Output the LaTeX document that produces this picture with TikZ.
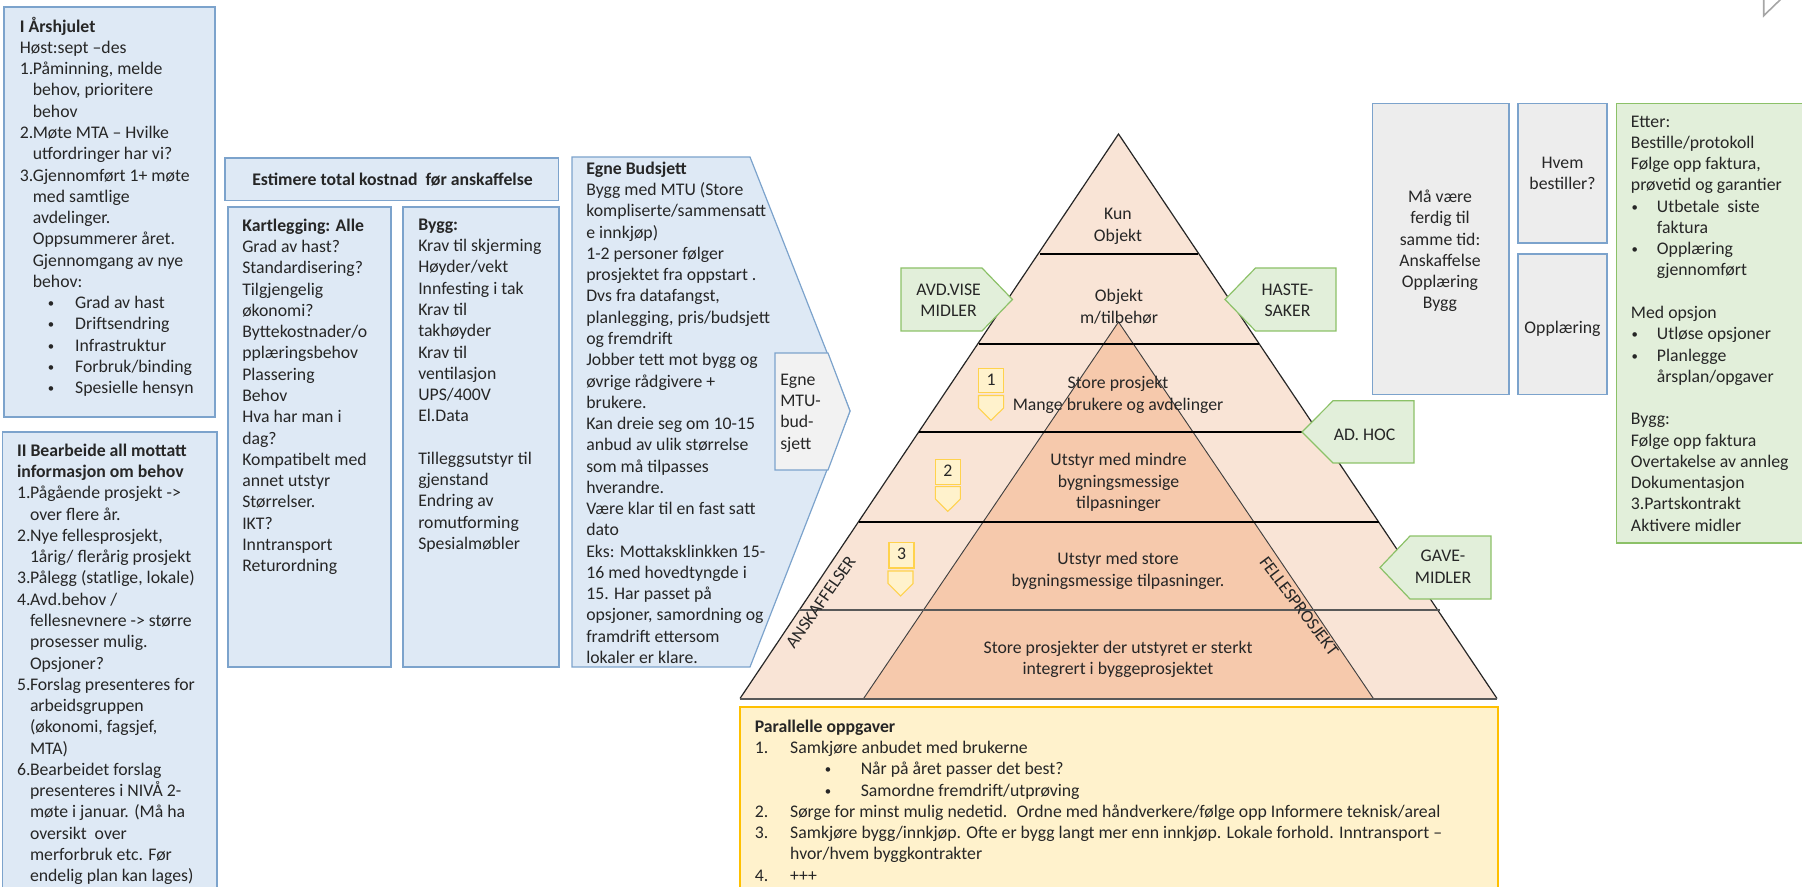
\documentclass[tikz,border=0pt]{standalone}
\usepackage{fontspec}
\setmainfont{Carlito}
\definecolor{bluefill}{HTML}{DEE9F5}
\definecolor{blueline}{HTML}{7CA3CC}
\definecolor{greenfill}{HTML}{E2EFDA}
\definecolor{greenline}{HTML}{8CC168}
\definecolor{greyfill}{HTML}{EDEDED}
\definecolor{yellowfill}{HTML}{FFF2CC}
\definecolor{yellowline}{HTML}{FFC000}
\definecolor{numline}{HTML}{FFD24D}
\definecolor{outerfill}{HTML}{F9E4D6}
\definecolor{innerfill}{HTML}{F6C9AC}
\definecolor{inkcolor}{HTML}{262626}
\newcommand{\nr}[2]{\makebox[#1][l]{#2}}
\newcommand{\bull}[2]{\makebox[#2][l]{\hspace*{#1}\raisebox{.7pt}{\scalebox{.72}{\textbullet}}}}

\begin{document}
\begin{tikzpicture}[
      x = .75pt, y = -.75pt,
      every node/.style = {
        inner sep = 0pt, text = inkcolor,
        font = \fontsize{13.3}{15.95}\selectfont,
        execute at begin node = \strut},
      lefttxt/.style = {anchor = north west, align = left, yshift = -2pt},
      midtxt/.style = {anchor = north, align = center, yshift = -2pt},
      bluebox/.style = {draw = blueline, fill = bluefill, line width = .9pt},
      greybox/.style = {draw = blueline, fill = greyfill, line width = .9pt},
      greenbox/.style = {draw = greenline, fill = greenfill, line width = .9pt},
      yellowbox/.style = {draw = yellowline, fill = yellowfill, line width = .9pt},
      numbox/.style = {draw = numline, fill = yellowfill, line width = .8pt},
      band/.style = {black, line width = 1.5pt}
      ]
    \useasboundingbox (0,0) rectangle (1802,887);
    % left boxes
    \draw[bluebox] (4,7) rectangle (215,417);
    \node[lefttxt] (I) at (19.6,14) {\textbf{I Årshjulet}\\
      Høst:sept –des\\
      \nr{9.7pt}{1.}Påminning, melde\\
      \nr{9.7pt}{}behov, prioritere\\
      \nr{9.7pt}{}behov\\
      \nr{9.7pt}{2.}Møte MTA – Hvilke\\
      \nr{9.7pt}{}utfordringer har vi?\\
      \nr{9.7pt}{3.}Gjennomført 1+ møte\\
      \nr{9.7pt}{}med samtlige\\
      \nr{9.7pt}{}avdelinger.\\
      \nr{9.7pt}{}Oppsummerer året.\\
      \nr{9.7pt}{}Gjennomgang av nye\\
      \nr{9.7pt}{}behov:\\
      \bull{21pt}{41.5pt}Grad av hast\\
      \bull{21pt}{41.5pt}Driftsendring\\
      \bull{21pt}{41.5pt}Infrastruktur\\
      \bull{21pt}{41.5pt}Forbruk/binding\\
      \bull{21pt}{41.5pt}Spesielle hensyn};
    \draw[bluebox] (2.5,432) rectangle (217,895);
    \node[lefttxt] (II) at (16.8,441) {\textbf{II Bearbeide all mottatt}\\
      \textbf{informasjon om behov}\\
      \nr{9.7pt}{1.}Pågående prosjekt ->\\
      \nr{9.7pt}{}over flere år.\\
      \nr{9.7pt}{2.}Nye fellesprosjekt,\\
      \nr{9.7pt}{}1årig/ flerårig prosjekt\\
      \nr{9.7pt}{3.}Pålegg (statlige, lokale)\\
      \nr{9.7pt}{4.}Avd.behov /\\
      \nr{9.7pt}{}fellesnevnere -> større\\
      \nr{9.7pt}{}prosesser mulig.\\
      \nr{9.7pt}{}Opsjoner?\\
      \nr{9.7pt}{5.}Forslag presenteres for\\
      \nr{9.7pt}{}arbeidsgruppen\\
      \nr{9.7pt}{}(økonomi, fagsjef,\\
      \nr{9.7pt}{}MTA)\\
      \nr{9.7pt}{6.}Bearbeidet forslag\\
      \nr{9.7pt}{}presenteres i NIVÅ 2-\\
      \nr{9.7pt}{}møte i januar. (Må ha\\
      \nr{9.7pt}{}oversikt~ over\\
      \nr{9.7pt}{}merforbruk etc. Før\\
      \nr{9.7pt}{}endelig plan kan lages)};
    % estimate
    \draw[bluebox] (225,158) rectangle (558.6,200.7);
    \node[midtxt] (E) at (392.5,167.5) {\textbf{Estimere total kostnad~ før anskaffelse}};
    \draw[bluebox] (228,207) rectangle (391,667);
    \node[lefttxt] (K) at (242,216) {\textbf{Kartlegging: Alle}\\
      Grad av hast?\\
      Standardisering?\\
      Tilgjengelig\\
      økonomi?\\
      Byttekostnader/o\\
      pplæringsbehov\\
      Plassering\\
      Behov\\
      Hva har man i\\
      dag?\\
      Kompatibelt med\\
      annet utstyr\\
      Størrelser.\\
      IKT?\\
      Inntransport\\
      Returordning};
    \draw[bluebox] (403,207) rectangle (559,667);
    \node[lefttxt] (B) at (418,216) {\textbf{Bygg:}\\
      Krav til skjerming\\
      Høyder/vekt\\
      Innfesting i tak\\
      Krav til\\
      takhøyder\\
      Krav til\\
      ventilasjon\\
      UPS/400V\\
      El.Data\\
      ~\\
      Tilleggsutstyr til\\
      gjenstand\\
      Endring av\\
      romutforming\\
      Spesialmøbler};
    % own budgets
    \draw[bluebox] (572,157) -- (750,157) -- (850,411) -- (750,667) -- (572,667) -- cycle;
    \node[lefttxt] (M) at (586,159) {\textbf{Egne Budsjett}\\
      Bygg med MTU (Store\\
      kompliserte/sammensatt\\
      e innkjøp)\\
      1-2 personer følger\\
      prosjektet fra oppstart .\\
      Dvs fra datafangst,\\
      planlegging, pris/budsjett\\
      og fremdrift\\
      Jobber tett mot bygg og\\
      øvrige rådgivere +\\
      brukere.\\
      Kan dreie seg om 10-15\\
      anbud av ulik størrelse\\
      som må tilpasses\\
      hverandre.\\
      Være klar til en fast satt\\
      dato\\
      Eks: Mottaksklinkken 15-\\
      16 med hovedtyngde i\\
      15. Har passet på\\
      opsjoner, samordning og\\
      framdrift ettersom\\
      lokaler er klare.};
    \draw[draw = blueline, fill = greyfill!70!white, line width = .9pt]
      (828,353) -- (775,353) -- (775,470) -- (828,470) -- (850,411) -- cycle;
    \node[lefttxt] (U) at (780,371) {Egne\\MTU-\\bud-\\sjett};
    % pyramid
    \fill[outerfill] (1118.5,134) -- (1497,698.5) -- (740,698.5) -- cycle;
    \fill[innerfill] (1118.5,322) -- (1373.4,698.5) -- (863.6,698.5) -- cycle;
    \draw[black!75, line width = .7pt] (863.6,698.5) -- (1118.5,322) -- (1373.4,698.5);
    \draw[black!85, line width = .9pt] (740,698.5) -- (1118.5,134) -- (1497,698.5);
    \draw[band] (1040.4,254) -- (1197.6,254);
    \draw[band] (978.5,343.6) -- (1259,343.6);
    \draw[band] (919,432.4) -- (1318,432.4);
    \draw[band] (858.7,521.6) -- (1379.3,521.6);
    \draw[black!65, line width = 1.5pt] (798.8,610.4) -- (1439.7,610.4);
    \draw[black!65, line width = 1.5pt] (740,698.5) -- (1497,698.5);
    \node[midtxt] (L1) at (1118,205.5) {Kun\\Objekt};
    \node[midtxt] (L2) at (1119,286.5) {Objekt\\m/tilbehør};
    \node[midtxt] (L3) at (1118,373.5) {Store prosjekt\\Mange brukere og avdelinger};
    \node[midtxt] (L4) at (1118.5,450.5) {Utstyr med mindre\\bygningsmessige\\tilpasninger};
    \node[midtxt] (L5) at (1118,549.5) {Utstyr med store\\bygningsmessige tilpasninger.};
    \node[midtxt] (L6) at (1118,638) {Store prosjekter der utstyret er sterkt\\integrert i byggeprosjektet};
    \node[rotate = 55] (A) at (822,603) {ANSKAFFELSER};
    \node[rotate = -53] (F) at (1298,607) {FELLESPROSJEKT};
    % numbers
    \draw[numbox] (978.5,368.4) rectangle (1003.6,392.5);
    \node (N1) at (991,381) {1};
    \draw[numbox] (978.5,395.5) -- (1003.6,395.5) -- (1003.6,408) -- (991,420.3) -- (978.5,408) -- cycle;
    \draw[numbox] (935.3,459.5) rectangle (960.4,484.3);
    \node (N2) at (947.8,472.5) {2};
    \draw[numbox] (935.3,486.6) -- (960.4,486.6) -- (960.4,499) -- (947.8,511.4) -- (935.3,499) -- cycle;
    \draw[numbox] (889,542.6) rectangle (914,568);
    \node (N3) at (901.5,555.5) {3};
    \draw[numbox] (888,571) -- (913,571) -- (913,583.5) -- (900.5,596) -- (888,583.5) -- cycle;
    % funding arrows
    \draw[greenbox] (901,268) -- (982,268) -- (1012.4,299.5) -- (982,331) -- (901,331) -- cycle;
    \node[midtxt] (AV) at (948.6,281) {AVD.VISE\\MIDLER};
    \draw[greenbox] (1336,268) -- (1255.5,268) -- (1225,299.5) -- (1255.5,331) -- (1336,331) -- cycle;
    \node[midtxt] (HA) at (1287.5,281) {HASTE-\\SAKER};
    \draw[greenbox] (1414,400.8) -- (1333,400.8) -- (1302,432) -- (1333,463) -- (1414,463) -- cycle;
    \node[midtxt] (AD) at (1364.6,422.5) {AD. HOC};
    \draw[greenbox] (1491,536) -- (1410,536) -- (1380,567.5) -- (1410,599) -- (1491,599) -- cycle;
    \node[midtxt] (GA) at (1443,547.5) {GAVE-\\MIDLER};
    % parallel tasks
    \draw[yellowbox] (740,707) rectangle (1498,895);
    \node[lefttxt] (P) at (754.5,717) {\textbf{Parallelle oppgaver}\\
      \nr{26.6pt}{1.}Samkjøre anbudet med brukerne\\
      \bull{52.5pt}{79.5pt}Når på året passer det best?\\
      \bull{52.5pt}{79.5pt}Samordne fremdrift/utprøving\\
      \nr{26.6pt}{2.}Sørge for minst mulig nedetid.~ Ordne med håndverkere/følge opp Informere teknisk/areal\\
      \nr{26.6pt}{3.}Samkjøre bygg/innkjøp. Ofte er bygg langt mer enn innkjøp. Lokale forhold. Inntransport –\\
      \nr{26.6pt}{}hvor/hvem byggkontrakter\\
      \nr{26.6pt}{4.}+++};
    % right boxes
    \draw[greybox] (1372.3,103.6) rectangle (1509,394.6);
    \node[midtxt] (MV) at (1440,187) {Må være\\ferdig til\\samme tid:\\Anskaffelse\\Opplæring\\Bygg};
    \draw[greybox] (1518,103.6) rectangle (1607,243);
    \node[midtxt] (HB) at (1562.5,154) {Hvem\\bestiller?};
    \draw[greybox] (1518,254) rectangle (1607,394.6);
    \node[midtxt] (OP) at (1562.5,316) {Opplæring};
    \draw[greenbox] (1616.3,103.6) rectangle (1810,543);
    \node[lefttxt] (ET) at (1630.7,112.8) {Etter:\\
      Bestille/protokoll\\
      Følge opp faktura,\\
      prøvetid og garantier\\
      \bull{.4pt}{19.5pt}Utbetale~ siste\\
      \nr{19.5pt}{}faktura\\
      \bull{.4pt}{19.5pt}Opplæring\\
      \nr{19.5pt}{}gjennomført\\
      ~\\
      Med opsjon\\
      \bull{.4pt}{19.5pt}Utløse opsjoner\\
      \bull{.4pt}{19.5pt}Planlegge\\
      \nr{19.5pt}{}årsplan/opgaver\\
      ~\\
      Bygg:\\
      Følge opp faktura\\
      Overtakelse av annleg\\
      Dokumentasjon\\
      3.Partskontrakt\\
      Aktivere midler};
    % corner mark
    \draw[black!35, line width = 1.2pt] (1763.7,-3) -- (1763.7,15.7) -- (1781,-1);
  \end{tikzpicture}
\end{document}
